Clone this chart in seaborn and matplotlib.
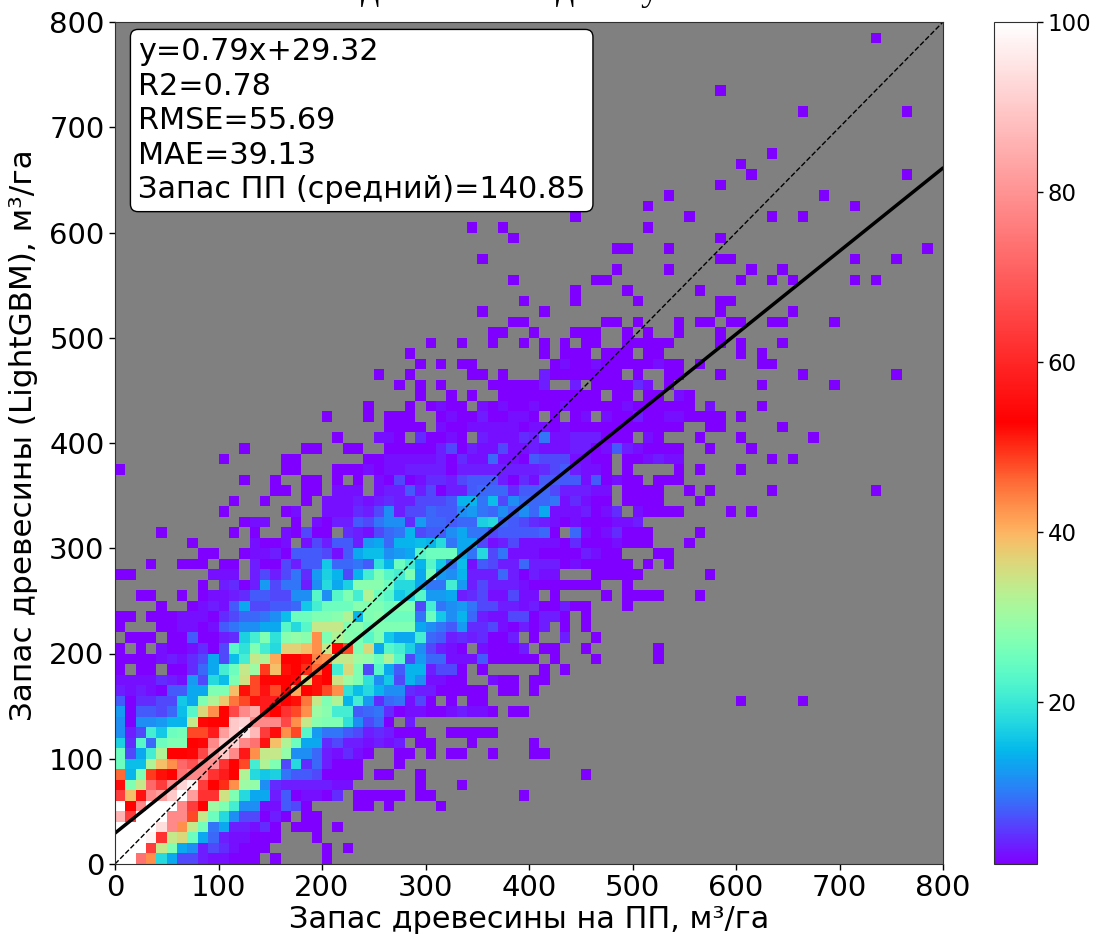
import matplotlib
matplotlib.use('Agg')
import matplotlib.pyplot as plt
from matplotlib.colors import LinearSegmentedColormap
import numpy as np
import pandas as pd
import seaborn as sns

# Counts per 10x10 bin; row_NN is the NN-th bin of y, list index is the bin of x
row_00 = [100,100,74,43,18,13,6,6,3,2,2,1,1,1,0,1,0,0,0,0,1]
row_01 = [100,100,100,64,34,27,13,11,3,6,4,2,1,1,1,0,0,0,0,0,1,0,1]
row_02 = [100,100,100,98,62,34,36,25,13,8,3,2,2,1,1,1,0,0,0,1]
row_03 = [100,100,100,100,94,78,43,34,26,9,13,3,3,2,4,1,0,1,1,1,0,1]
row_04 = [86,64,100,100,100,78,78,48,34,25,18,11,6,6,1,3,1,0,1,1]
row_05 = [100,53,78,100,100,100,78,64,53,30,27,21,11,11,2,2,7,6,1,0,0,0,0,1,1,0,1,0,0,0,0,1]
row_06 = [64,39,56,78,82,90,100,82,62,62,35,27,18,13,13,3,7,1,2,2,1,4,0,1,1,1,1,1,0,1,1,0,0,0,0,0,0,0,0,1]
row_07 = [55,27,34,72,64,78,92,98,64,53,50,43,30,29,11,4,3,3,3,3,3,2,2,0,0,0,0,0,0,1,0,0,0,1]
row_08 = [46,14,27,49,52,53,74,78,78,62,58,53,32,18,16,17,9,7,7,6,1,1,1,1,0,1,1,0,0,1]
row_09 = [25,15,15,32,39,43,72,68,78,80,62,53,48,21,32,27,6,18,4,8,3,1,1,1,0,0,0,1]
row_10 = [25,6,13,21,32,53,53,54,66,82,90,78,57,43,34,34,29,11,11,8,3,2,4,2,1,0,0,1,1,0,1,0,1,1,0,0,1,0,0,0,1,1]
row_11 = [17,4,23,8,25,27,27,53,54,78,90,92,78,74,56,39,32,25,13,13,4,6,3,3,2,3,2,3,0,1,1,0,0,0,1,0,0,0,0,0,1]
row_12 = [11,3,6,21,16,25,26,48,48,58,82,90,96,87,64,55,43,48,23,12,9,9,7,6,3,4,3,1,1,1,0,0,1,1,1,1,1]
row_13 = [11,1,11,11,12,14,14,34,54,53,53,90,92,78,78,78,66,43,34,28,27,27,19,11,6,8,1,0,3]
row_14 = [12,1,7,7,6,8,15,23,36,43,53,66,78,84,58,53,62,48,43,30,28,21,21,7,8,9,4,1,2,2,1,1,2,3,2,2,1,0,1,1]
row_15 = [7,1,4,4,6,6,16,13,27,32,38,45,48,52,58,58,53,52,45,34,27,32,14,21,12,4,8,9,2,6,1,0,1,0,1,1]
row_16 = [3,2,3,2,1,7,7,13,13,27,27,39,52,48,56,48,53,41,53,52,48,43,19,15,18,14,11,11,4,3,3,1,1,1,1,1,0,1,1,0,1]
row_17 = [2,2,2,2,4,3,2,12,6,18,15,27,35,48,54,53,53,54,36,52,53,35,30,27,19,11,16,6,14,11,2,2,1,1,0,0,2,1,1,0,1,1]
row_18 = [1,0,1,1,0,1,1,4,8,13,21,25,34,30,49,39,52,53,50,46,53,21,36,27,6,23,13,7,14,14,3,6,6,1,0,1,0,0,0,0,0,1,0,1]
row_19 = [1,1,1,1,2,3,2,4,6,13,6,15,21,34,32,41,53,53,52,44,43,34,34,30,29,25,32,23,6,12,8,8,2,2,2,7,1,1,1,1,1,0,1,0,0,0,1]
row_20 = [1,0,1,0,2,1,1,2,4,1,6,23,19,27,21,18,37,37,39,43,34,53,48,27,36,13,23,21,17,11,6,3,2,1,0,2,1,1,1,3,0,1,1,0,0,1]
row_21 = [0,1,1,1,0,1,1,7,1,1,3,4,17,21,27,19,28,29,28,43,27,32,28,27,23,27,16,13,13,21,8,7,3,4,3,4,1,1,3,0,1,0,0,3,0,0,1]
row_22 = [1,0,0,0,1,1,2,2,1,2,7,9,11,11,13,13,23,18,23,34,34,34,27,28,25,27,27,27,27,13,11,9,7,12,4,4,6,2,1,3,1,3,0,1,0,1]
row_23 = [1,1,0,1,1,1,2,2,2,1,4,6,8,8,9,11,15,25,25,27,27,28,32,14,27,28,25,25,25,9,25,16,11,14,8,3,2,2,6,6,1,3,3,1,0,1]
row_24 = [0,0,0,0,1,0,0,1,2,3,2,7,13,6,6,7,7,8,16,21,25,25,25,28,27,27,25,27,27,6,21,9,11,12,9,6,6,3,3,2,3,1,1,3,1,1,0,0,0,1]
row_25 = [0,0,1,1,0,0,1,0,1,2,2,3,4,7,7,6,6,11,11,23,11,23,27,21,32,25,23,16,18,23,12,12,13,3,4,6,2,2,6,2,2,0,1,0,0,0,0,1,0,1,1,1,1,0,0,0,1]
row_26 = [0,0,0,0,0,0,0,0,1,0,3,4,1,3,12,6,9,9,3,11,18,13,17,28,28,28,25,18,18,13,9,9,21,12,3,6,3,3,3,2,1,1,1,1,1,1,1,0,0,1]
row_27 = [1,1,0,0,0,0,0,0,0,2,2,2,0,3,6,3,6,9,4,12,17,14,6,14,21,27,23,21,27,13,26,12,11,14,3,3,3,8,3,1,3,2,2,0,0,0,1,1,1,1,1,0,0,0,0,0,0,1]
row_28 = [0,0,0,1,0,0,1,1,1,0,1,1,0,3,1,1,6,3,7,7,16,8,8,9,7,19,14,25,21,14,23,16,9,15,2,7,6,3,3,8,3,3,3,1,2,1,1,1,1,1,0,1,0,1]
row_29 = [0,0,0,0,0,0,0,0,1,1,0,0,1,2,2,3,1,7,7,7,6,2,7,13,15,15,11,12,13,23,25,25,25,13,9,18,6,9,2,2,2,1,1,1,1,3,2,1,1,0,0,0,1,1]
row_30 = [0,0,0,0,0,0,0,1,0,0,0,0,0,2,1,1,2,0,2,6,3,7,7,3,12,13,8,14,14,15,14,18,9,13,13,6,2,3,6,2,2,2,2,1,4,1,1,1,2,1,1,1,0,0,0,1]
row_31 = [0,0,0,0,1,0,0,0,0,0,0,1,0,1,0,0,2,1,6,1,1,0,4,3,2,6,8,9,14,6,7,7,11,13,9,9,6,7,7,7,7,8,1,0,8,2,1,2,4,1,1,1,0,0,0,0,1]
row_32 = [0,0,0,0,0,0,0,0,0,0,0,0,1,2,2,0,0,1,0,2,1,3,3,7,6,9,11,11,4,12,8,8,7,8,8,17,18,8,7,6,4,3,2,1,2,1,1,1,2,2,3]
row_33 = [0,0,0,0,0,0,0,0,0,0,1,0,0,0,0,0,1,2,0,0,2,2,2,4,3,6,11,3,6,6,8,7,7,11,12,9,8,11,8,11,8,13,2,2,2,3,1,2,4,0,2,1,1,1,1,0,0,0,0,1,0,1]
row_34 = [0,0,0,0,0,0,0,0,0,0,0,1,0,0,1,0,0,0,1,0,2,2,2,3,2,3,4,3,3,6,6,6,7,14,14,9,15,6,11,8,8,8,9,2,4,2,1,1,0,1,1,1,1,0,0,0,1]
row_35 = [0,0,0,0,0,0,0,0,0,0,0,0,0,0,0,1,1,0,1,1,0,2,2,2,0,2,3,3,7,3,6,1,3,3,7,8,8,8,4,7,7,8,6,3,3,3,2,2,0,1,1,1,1,0,0,1,0,1,0,0,0,0,0,1]
row_36 = [0,0,0,0,0,0,0,0,0,0,0,0,1,0,0,1,0,0,1,1,0,1,0,1,0,2,1,6,1,2,4,4,3,6,7,7,7,3,1,4,2,7,7,7,7,2,7,1,2,1,1,0,1,1,1]
row_37 = [1,0,0,0,0,0,0,0,0,0,0,0,0,0,0,0,1,1,0,0,0,1,1,1,2,1,2,2,3,3,3,3,1,3,3,3,3,3,3,3,3,4,6,7,3,2,2,1,0,1,0,0,0,0,1,0,1,0,0,0,1]
row_38 = [0,0,0,0,0,0,0,0,0,0,1,0,0,0,0,0,1,1,0,0,0,0,0,0,1,1,2,2,2,2,2,3,1,4,2,2,8,2,2,1,7,6,6,6,2,2,1,1,0,1,1,2,3,2,2,0,0,0,0,0,0,0,0,1,0,1]
row_39 = [0,0,0,0,0,0,0,0,0,0,0,0,1,0,0,0,0,0,1,1,0,0,1,1,0,0,1,1,1,1,1,3,6,1,3,2,2,6,2,2,3,2,2,2,3,3,1,2,7,3,2,1,1,1,1,0,0,1,0,0,0,1]
row_40 = [0]*21 + [1,0,0,0,2,2,1,0,4,1,1,2,1,0,3,2,2,2,4,3,9,2,2,3,3,3,1,1,1,0,2,1,0,0,0,1,0,0,0,1,0,0,0,0,0,0,1]
row_41 = [0]*26 + [1,1,1,1,0,2,1,1,2,2,2,2,2,1,2,2,1,2,1,1,1,1,1,1,1,1,1,1,1,0,0,1,1,0,0,0,0,0,1]
row_42 = [0]*20 + [1,0,0,0,1,0,1,1,1,0,0,1,2,1,1,3,1,1,2,2,1,0,1,0,1,2,0,2,1,1,3,1,1,2,2,1,1,1,1,0,1]
row_43 = [0]*24 + [1,0,0,0,1,0,1,2,1,1,0,2,1,2,1,1,2,1,1,2,1,1,1,1,1,2,1,1,1,1,1,1,0,2,0,0,0,0,1]
row_44 = [0]*29 + [1,0,0,1,0,1,0,0,1,1,1,1,1,1,1,1,1,1,0,1,1,0,1,1,0,2,1]
row_45 = [0]*27 + [1,0,1,0,1,0,0,0,0,1,1,1,1,1,3,0,0,3,0,1,1,1,1,4,2,0,1]
row_46 = [0]*25 + [1,0,0,1,0,0,0,0,0,1,1,0,1,0,0,0,3,1,1,1,1,1,1,1,0,1,0,0,1,1]
row_47 = [0]*29 + [1,0,1,0,1,1,0,0,0,0,0,0,0,1,2,1,1,2,1,1,1,1,1,2,1,1,0,1]
rows = [row_00, row_01, row_02, row_03, row_04, row_05, row_06, row_07, row_08, row_09,
        row_10, row_11, row_12, row_13, row_14, row_15, row_16, row_17, row_18, row_19,
        row_20, row_21, row_22, row_23, row_24, row_25, row_26, row_27, row_28, row_29,
        row_30, row_31, row_32, row_33, row_34, row_35, row_36, row_37, row_38, row_39,
        row_40, row_41, row_42, row_43, row_44, row_45, row_46, row_47]

# Scattered single cells further out: bin of y and its bins of x
far_rows = [8, 15, 19, 20, 35, 45, 46, 47, 48, 49, 50, 51, 52, 53, 54, 55, 56, 57, 58, 59, 60,
            61, 62, 63, 64, 65, 66, 67, 71, 73, 78]
far_cols = [[45], [60, 66], [52], [52], [73], [62, 69], [58, 66, 75], [62, 63],
            [28, 41, 43, 44, 45, 47, 48, 49, 51, 52, 60, 62],
            [30, 33, 36, 39, 41, 43, 45, 46, 49, 50, 51, 52, 53, 58, 60, 64],
            [36, 37, 40, 44, 45, 46, 49, 51, 54, 58],
            [38, 39, 47, 48, 50, 54, 56, 57, 59, 60, 63, 64, 69],
            [35, 41, 58, 65], [39, 44, 50, 58, 59], [44, 49, 56],
            [38, 46, 47, 60, 63, 65, 71, 73], [48, 53, 61, 64], [35, 58, 59, 71, 75],
            [48, 49, 53, 78], [38, 58], [34, 37, 51], [44, 55, 63, 66], [51, 71], [53, 68],
            [58], [61, 76], [60], [63], [66, 76], [58], [73]]

# Regression and 1:1 lines
slope = 0.79
intercept = 29.32
limits = [0, 800]
stats_text = 'y=0.79x+29.32\nR2=0.78\nRMSE=55.69\nMAE=39.13\nЗапас ПП (средний)=140.85'
bin_size = 10

cells_x = []
cells_y = []
cells_n = []
for r, row in enumerate(rows):
    for c, n in enumerate(row):
        if n > 0:
            cells_x.append((c + 0.5) * bin_size)
            cells_y.append((r + 0.5) * bin_size)
            cells_n.append(n)
for r, cols in zip(far_rows, far_cols):
    for c in cols:
        cells_x.append((c + 0.5) * bin_size)
        cells_y.append((r + 0.5) * bin_size)
        cells_n.append(1)
df = pd.DataFrame({'x': cells_x, 'y': cells_y, 'n': cells_n})

# rainbow up to red, then on to white
rainbow = plt.get_cmap('rainbow')
red_at = 0.525
stops = [(t * red_at, rainbow(t)) for t in np.linspace(0, 1, 32)] + [(1.0, (1, 1, 1, 1))]
cmap = LinearSegmentedColormap.from_list('rainbow_white', stops, N=512)

sns.set_style('ticks')
plt.rcParams['font.family'] = ['DejaVu Sans']
plt.rcParams['text.color'] = 'black'
plt.rcParams['axes.labelcolor'] = 'black'
plt.rcParams['xtick.color'] = 'black'
plt.rcParams['ytick.color'] = 'black'

fig = plt.figure(figsize=(10.96, 9.4), dpi=100)
ax = fig.add_axes([115 / 1096, 76 / 940, 828 / 1096, 842 / 940])
cax = fig.add_axes([994 / 1096, 76 / 940, 43 / 1096, 842 / 940])
ax.set_facecolor('gray')

sns.histplot(data=df, x='x', y='y', weights='n', bins=80, binrange=((0, 800), (0, 800)),
             cmap=cmap, vmin=1, vmax=100, cbar=True, cbar_ax=cax, ax=ax)

line_x = np.array(limits)
sns.lineplot(x=line_x, y=slope * line_x + intercept, color='black', linewidth=2.5, ax=ax)
ax.plot(limits, limits, color='black', linestyle='--', linewidth=1)

ax.set_xlim(limits)
ax.set_ylim(limits)
ax.set_xticks(range(0, 801, 100))
ax.set_yticks(range(0, 801, 100))
ax.tick_params(labelsize=21, length=4, width=1)
ax.set_xlabel('Запас древесины на ПП, м³/га', fontsize=21.8, labelpad=2)
ax.set_ylabel('Запас древесины (LightGBM), м³/га', fontsize=22.4, labelpad=8, y=0.5095)
for s in ax.spines.values():
    s.set_color('#303030')
    s.set_visible(True)
for s in cax.spines.values():
    s.set_color('#303030')

cax.set_yticks([20, 40, 60, 80, 100])
cax.tick_params(labelsize=16.5, length=4, width=1)

ax.text(23 / 828, (842 - 15) / 842, stats_text, transform=ax.transAxes, fontsize=21.8, va='top', ha='left',
        linespacing=1.24,
        bbox=dict(boxstyle='round,pad=0.25', facecolor='white', edgecolor='black', linewidth=1))

# title is cut off by the top edge, only its descenders are left
for letter, px in zip(['д', 'д', 'у'], [370, 565, 650]):
    fig.text(px / 1096, 1.0, letter, family='Liberation Serif', fontsize=26, ha='center', va='baseline')

fig.savefig('out.png', dpi=100)
